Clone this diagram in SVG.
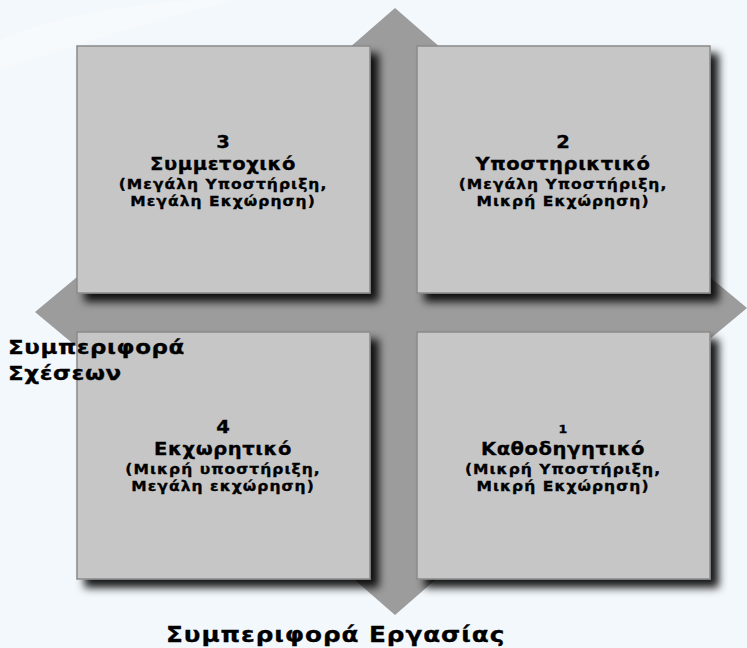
<svg xmlns="http://www.w3.org/2000/svg" width="747" height="648" viewBox="0 0 747 648">
  <defs>
    <filter id="shadow" x="-10%" y="-10%" width="130%" height="130%">
      <feDropShadow dx="8" dy="8" stdDeviation="4" flood-color="#000" flood-opacity="0.9"/>
    </filter>
    <linearGradient id="glow" x1="0" y1="0" x2="1" y2="1">
      <stop offset="0" stop-color="#ffffff" stop-opacity="0.8"/>
      <stop offset="1" stop-color="#ffffff" stop-opacity="0"/>
    </linearGradient>
  </defs>
  <style>
    .box { fill: #C6C6C6; stroke: #8A8A8A; stroke-width: 1.5; }
    .arrow { fill: #9C9C9C; }
    text { font-family: "DejaVu Sans", Verdana, sans-serif; font-weight: bold; fill: #000; text-anchor: middle; stroke: #000; stroke-width: 0.3px; }
    .num { font-size: 17px; }
    .num1 { font-size: 11px; }
    .title { font-size: 17px; letter-spacing: 0.5px; }
    .sub { font-size: 13.5px; letter-spacing: 0.9px; }
    .axis { font-size: 20px; letter-spacing: 0.5px; text-anchor: start; }
    .axisb { font-size: 21.5px; letter-spacing: 0.8px; text-anchor: start; }
  </style>
  <rect width="747" height="648" fill="#F3F8FC"/>
  <path d="M0,70 L0,40 C60,15 120,5 200,0 L240,0 C150,20 60,50 0,70 Z" fill="url(#glow)" opacity="0.6"/>

  <g id="connectors">
    <polygon class="arrow" points="395,8 457,62 425,62 425,561 457,561 395,615 333,561 365,561 365,62 333,62"/>
    <polygon class="arrow" points="35,312 89,267 89,283 693,283 693,263 747,308 693,353 693,338 89,338 89,357"/>
  </g>

  <g id="node3">
    <rect class="box" x="77" y="46" width="293" height="247" filter="url(#shadow)"/>
    <text class="num" transform="translate(223,148) scale(1.15,1)">3</text>
    <text class="title" transform="translate(223,170) scale(1.15,1)">Συμμετοχικό</text>
    <text class="sub" transform="translate(223,189) scale(1.15,1)">(Μεγάλη Υποστήριξη,</text>
    <text class="sub" transform="translate(223,206) scale(1.15,1)">Μεγάλη Εκχώρηση)</text>
  </g>

  <g id="node2">
    <rect class="box" x="417" y="46" width="293" height="247" filter="url(#shadow)"/>
    <text class="num" transform="translate(563,148) scale(1.15,1)">2</text>
    <text class="title" transform="translate(563,170) scale(1.15,1)">Υποστηρικτικό</text>
    <text class="sub" transform="translate(563,189) scale(1.15,1)">(Μεγάλη Υποστήριξη,</text>
    <text class="sub" transform="translate(563,206) scale(1.15,1)">Μικρή Εκχώρηση)</text>
  </g>

  <g id="node4">
    <rect class="box" x="77" y="332" width="293" height="247" filter="url(#shadow)"/>
    <text class="num" transform="translate(223,433) scale(1.15,1)">4</text>
    <text class="title" transform="translate(223,455) scale(1.15,1)">Εκχωρητικό</text>
    <text class="sub" transform="translate(223,474) scale(1.15,1)">(Μικρή υποστήριξη,</text>
    <text class="sub" transform="translate(223,491) scale(1.15,1)">Μεγάλη εκχώρηση)</text>
  </g>

  <g id="node1">
    <rect class="box" x="417" y="332" width="293" height="247" filter="url(#shadow)"/>
    <text class="num1" transform="translate(563,433) scale(1.15,1)">1</text>
    <text class="title" transform="translate(563,455) scale(1.15,1)">Καθοδηγητικό</text>
    <text class="sub" transform="translate(563,474) scale(1.15,1)">(Μικρή Υποστήριξη,</text>
    <text class="sub" transform="translate(563,491) scale(1.15,1)">Μικρή Εκχώρηση)</text>
  </g>

  <g id="axis-labels">
    <text class="axis" transform="translate(8,354) scale(1.15,1)">Συμπεριφορά</text>
    <text class="axis" transform="translate(8,380) scale(1.15,1)">Σχέσεων</text>
    <text class="axisb" transform="translate(166,642) scale(1.15,1)">Συμπεριφορά Εργασίας</text>
  </g>
</svg>
